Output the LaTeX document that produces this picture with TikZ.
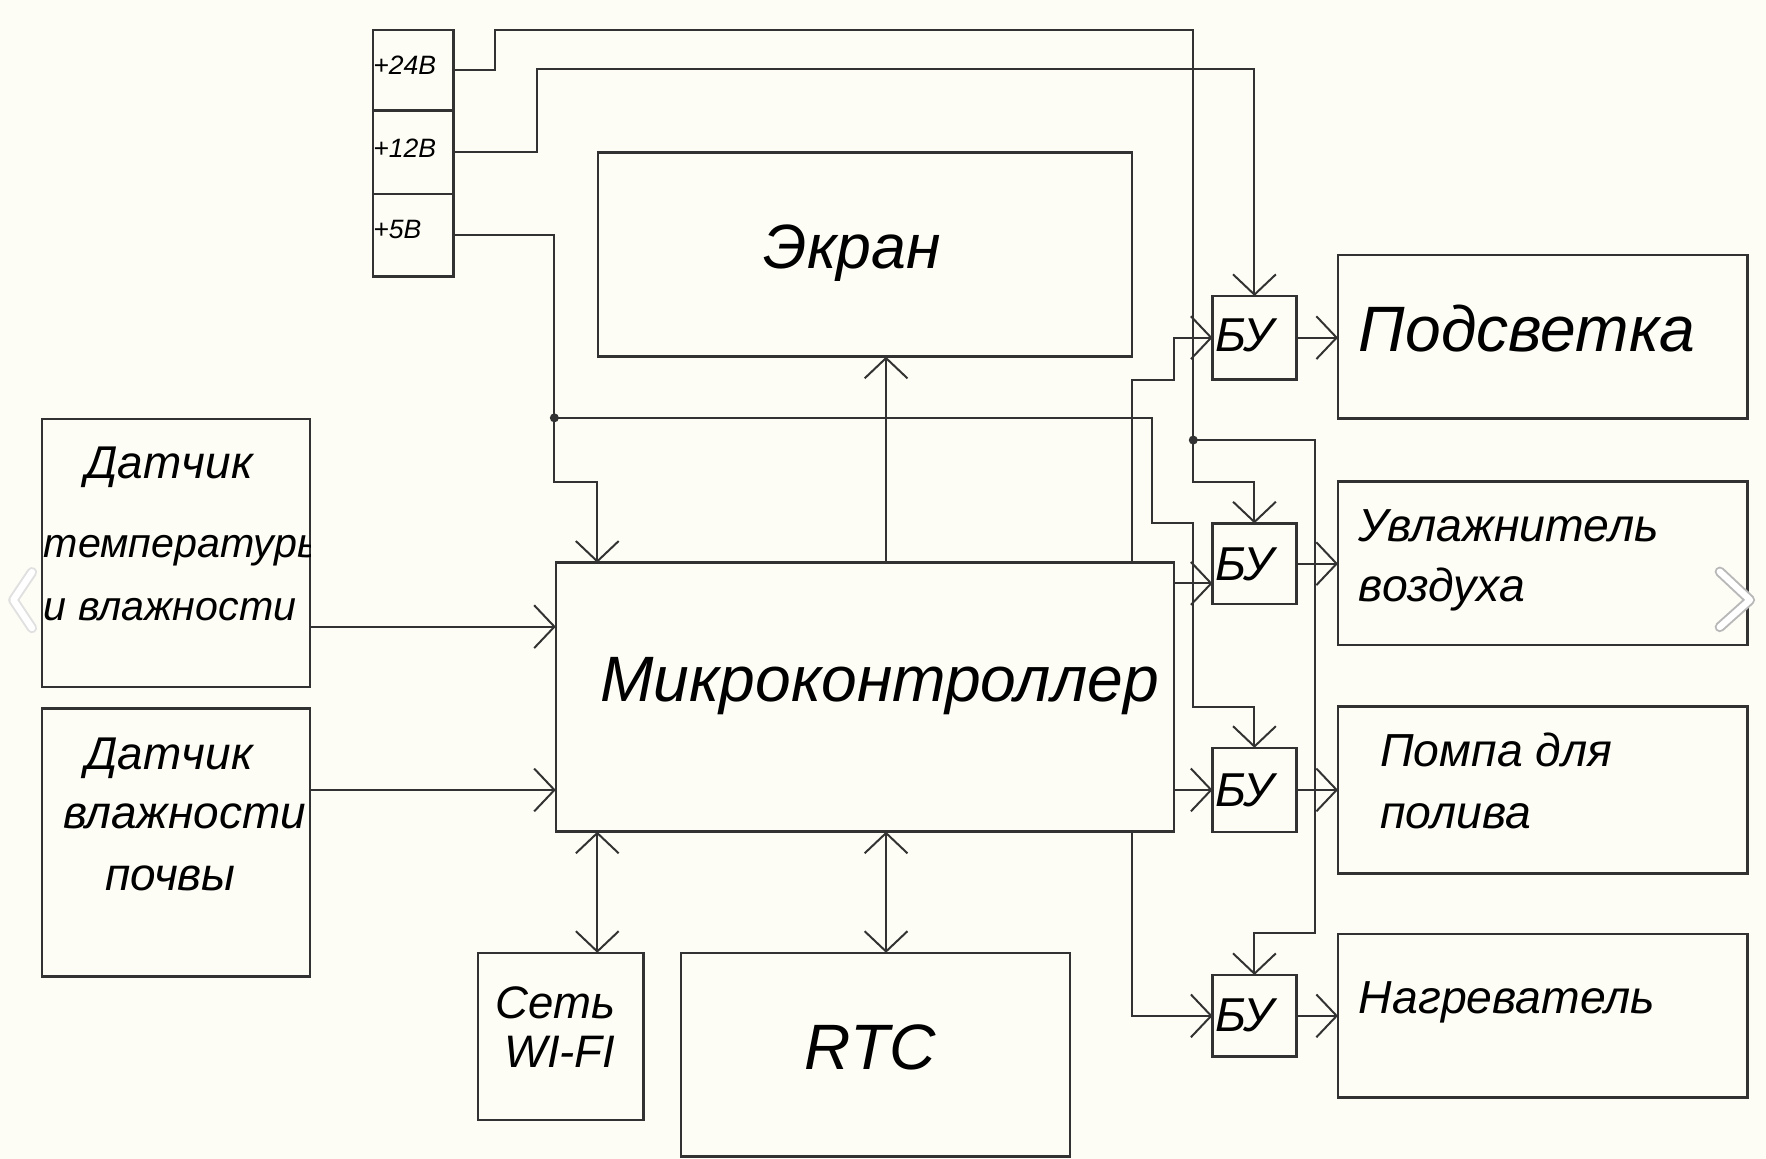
\documentclass[tikz,border=0pt]{standalone}
\usepackage{fontspec}
\setmainfont{Liberation Sans}
\usetikzlibrary{arrows.meta,calc,fit}
\definecolor{bg}{RGB}{253,253,245}
\definecolor{ln}{RGB}{50,50,50}
\begin{document}
\begin{tikzpicture}[x=0.01cm,y=-0.01cm,
  box/.style={draw=ln, line width=0.65pt, fill=bg, inner sep=0pt, outer sep=0pt, rectangle},
  wire/.style={draw=ln, line width=0.5pt},
  barb/.tip={Straight Barb[length=1.8mm,width=3.8mm]},
  arr/.style={wire, -barb},
  darr/.style={wire, barb-barb},
  lbl/.style={anchor=base west, inner sep=0pt, outer sep=0pt, text=black},
  big/.style={lbl, font=\itshape\fontsize{16.2}{19}\selectfont},
  mid/.style={lbl, font=\itshape\fontsize{11.7}{14}\selectfont},
  sen/.style={lbl, font=\itshape\fontsize{11.6}{14}\selectfont},
  sens/.style={lbl, font=\itshape\fontsize{10.4}{13}\selectfont},
  bul/.style={lbl, font=\itshape\fontsize{12}{14}\selectfont},
  pwr/.style={lbl, font=\itshape\fontsize{6.7}{8}\selectfont},
  chev/.style={line width=0.5pt, double=white, double distance=1.6pt, line cap=round, line join=round},
]
\fill[bg] (0,0) rectangle (1568,1029);
\useasboundingbox (0,0) rectangle (1568,1029);

% power supply
\node[box, fit={(331,26.6) (402.5,98.3)}] (p24) {};
\node[box, fit={(331,98.3) (402.5,172.3)}] (p12) {};
\node[box, fit={(331,172.3) (402.5,245.7)}] (p5) {};
\node[pwr] (t24) at (331.5,66) {+24В};
\node[pwr] (t12) at (331.5,140) {+12В};
\node[pwr] (t5) at (331.5,212) {+5В};

% main blocks
\node[box, fit={(531,135.5) (1005,316.7)}] (screen) {};
\node[box, fit={(493.5,499.6) (1042.4,738.4)}] (micro) {};
\node[box, fit={(37.4,372) (275.4,610)}] (s1) {};
\node[box, fit={(37.4,629) (275.4,867)}] (s2) {};
\node[box, fit={(424.5,846) (571.6,994.5)}] (wifi) {};
\node[box, fit={(604.7,846) (950,1027)}] (rtc) {};

% control units
\node[box, fit={(1076.6,262.8) (1151,336.8)}] (bu1) {};
\node[box, fit={(1076.6,464.7) (1151,536.3)}] (bu2) {};
\node[box, fit={(1076.6,664) (1151,738.7)}] (bu3) {};
\node[box, fit={(1076.6,865.7) (1151,938.2)}] (bu4) {};

% loads
\node[box, fit={(1188,226.4) (1551.8,371.4)}] (light) {};
\node[box, fit={(1188,427.7) (1551.8,572.7)}] (hum) {};
\node[box, fit={(1188,627.5) (1551.8,775.4)}] (pump) {};
\node[box, fit={(1188,829.3) (1551.8,974.3)}] (heat) {};

% texts
\node[lbl, font=\itshape\fontsize{15.8}{18}\selectfont] (tscr) at (678,238.3) {Экран};
\node[lbl, font=\itshape\fontsize{16.2}{19}\selectfont] (tmic) at (533,623) {Микроконтроллер};
\node[lbl, font=\itshape\fontsize{16.2}{19}\selectfont] (trtc) at (714.6,950) {RTC};
\node[lbl, font=\itshape\fontsize{11.5}{14}\selectfont] (twf1) at (440,904) {Сеть};
\node[lbl, font=\itshape\fontsize{11.5}{14}\selectfont] (twf2) at (447.5,948) {WI-FI};
\node[big] (tl) at (1206.6,312) {Подсветка};
\node[mid] (th1) at (1206.6,481) {Увлажнитель};
\node[mid] (th2) at (1206.6,534.2) {воздуха};
\node[mid] (tp1) at (1225.6,680.7) {Помпа для};
\node[mid] (tp2) at (1225.6,735.4) {полива};
\node[mid] (thh) at (1206.6,899.7) {Нагреватель};
\begin{scope}
  \clip (s1.north west) rectangle (s1.south east);
  \node[sen] (ts11) at (76,425) {Датчик};
  \node[sens] (ts12) at (39,494.6) {температуры};
  \node[sens] (ts13) at (39,550.6) {и влажности};
\end{scope}
\begin{scope}
  \clip (s2.north west) rectangle (s2.south east);
  \node[sen] (ts21) at (76,683.4) {Датчик};
  \node[sen] (ts22) at (56,736) {влажности};
  \node[sen] (ts23) at (93.5,790.6) {почвы};
\end{scope}
\foreach \b/\yy in {bu1/312.2, bu2/515, bu3/716.5, bu4/915.5}
  \node[bul] at (1079,\yy) {БУ};

% junctions
\coordinate (j5) at (492.2,371);
\coordinate (j24) at (1059.5,390.7);

% power wiring
\draw[arr] (p24.east) -| (439.5,26.6) -| (1059.5,427.7) -| (bu2.north);
\draw[arr] (j24) -| (1167.6,828.6) -| (bu4.north);
\draw[arr] (p12.east) -| (476.5,61.6) -| (bu1.north);
\draw[arr] (p5.east) -| (492.2,427.7) -| (micro.north -| 530.3,0);
\draw[arr] (j5) -| (1022.6,464.7) -| (1059.5,628) -| (bu3.north);
\fill[ln] (j5) circle (4);
\fill[ln] (j24) circle (4);

% signals
\draw[arr] (micro.north -| 786.7,0) -- (screen.south -| 786.7,0);
\draw[arr] (s1.east |- 0,556.4) -- (micro.west |- 0,556.4);
\draw[arr] (s2.east |- 0,701.4) -- (micro.west |- 0,701.4);
\draw[darr] (micro.south -| 530.3,0) -- (wifi.north -| 530.3,0);
\draw[darr] (micro.south -| 786.7,0) -- (rtc.north -| 786.7,0);

\draw[arr] (micro.north -| 1005,0) |- (1042.6,337.4) |- (bu1.west);
\draw[arr] (micro.east |- 0,518) -- (bu2.west |- 0,518);
\draw[arr] (micro.east |- bu3.west) -- (bu3.west);
\draw[arr] (micro.south -| 1005,0) |- (bu4.west);

\draw[arr] (bu1.east) -- (bu1.east -| light.west);
\draw[arr] (bu2.east) -- (bu2.east -| hum.west);
\draw[arr] (bu3.east) -- (bu3.east -| pump.west);
\draw[arr] (bu4.east) -- (bu4.east -| heat.west);

% slideshow chevrons
\draw[chev, draw=black!12] (28.4,508) -- (11.8,532.7) -- (28.4,557.6);
\draw[chev, draw=black!28] (1527,507.6) -- (1553.8,532.7) -- (1527,556.7);
\end{tikzpicture}
\end{document}
